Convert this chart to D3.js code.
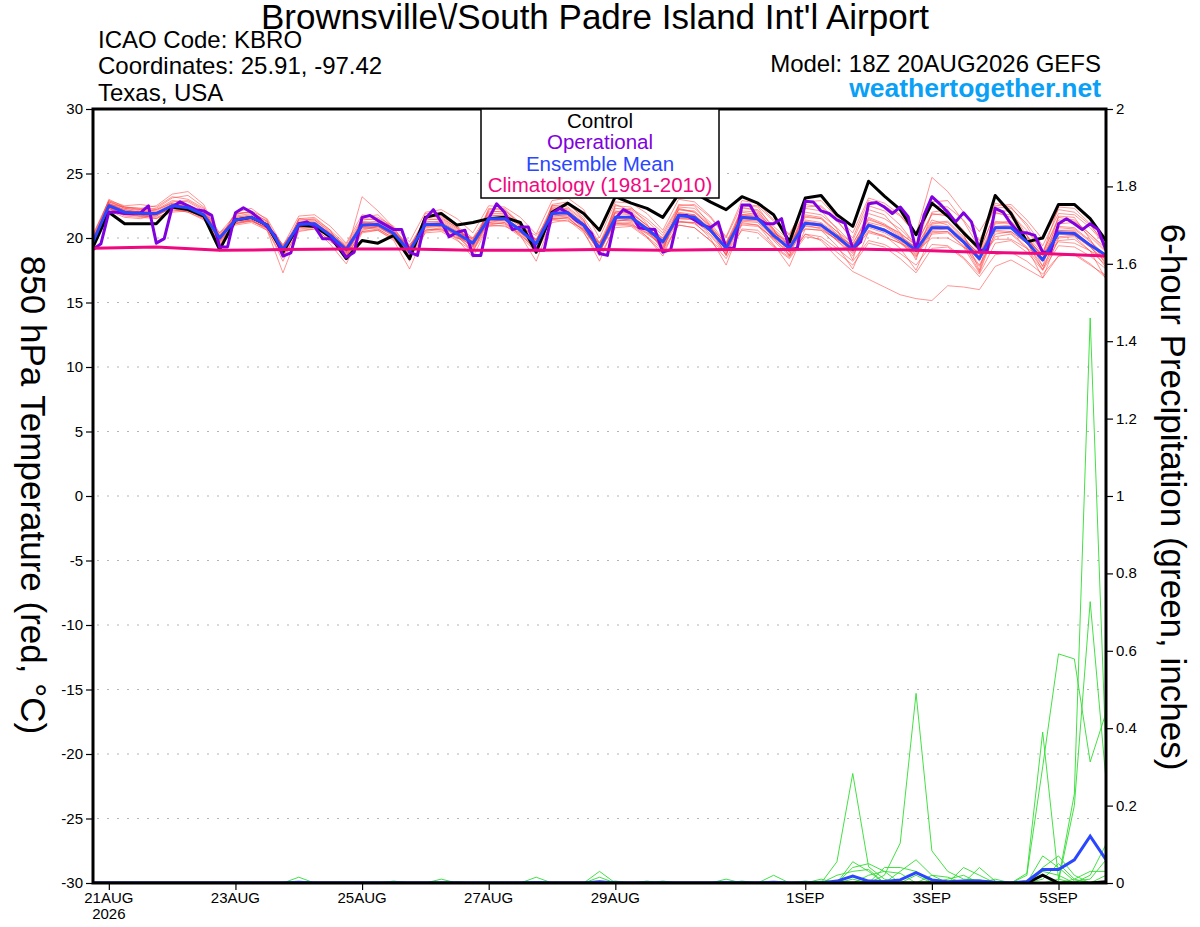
<!DOCTYPE html>
<html>
<head>
<meta charset="utf-8">
<script src="https://cdn.jsdelivr.net/npm/d3@7"></script>
<style>
  html, body { margin: 0; padding: 0; background: #fff; overflow: hidden; }
  svg { display: block; }
  text { font-family: "Liberation Sans", Arial, sans-serif; }
</style>
</head>
<body>
<svg id="chart" width="1200" height="927"></svg>
<script>
// ---- data (6-hourly from 18Z 20AUG2026, 65 steps) ----
const startTime = Date.UTC(2026, 7, 20, 18);

const tempControl = [19.3, 22.0, 21.1, 21.1, 21.1, 22.4, 22.2, 21.7, 19.1, 21.4, 21.6, 21.0, 18.9, 21.0, 20.9, 20.1, 18.4,
  19.8, 19.6, 20.2, 18.4, 21.6, 21.9, 21.0, 21.2, 21.5, 21.6, 21.2, 18.9, 22.0, 22.7, 21.9, 20.6,
  23.2, 22.7, 22.3, 21.6, 23.4, 23.5, 22.8, 22.2, 23.2, 22.7, 21.8, 19.7, 23.1, 23.3, 21.8, 20.9,
  24.4, 23.25, 22.2, 20.25, 22.7, 21.7, 20.4, 19.2, 23.3, 21.9, 19.7, 20.0, 22.6, 22.6, 21.5, 19.8];

const tempMean = [19.7, 22.5, 22.0, 21.9, 21.9, 22.5, 22.35, 21.8, 20.0, 21.4, 21.6, 21.0, 19.1, 21.05, 21.1, 20.2, 19.1,
  21.0, 21.05, 20.35, 19.0, 21.05, 21.05, 20.35, 19.6, 21.5, 21.5, 20.6, 19.55, 21.9, 21.95, 21.0, 19.2,
  21.6, 21.6, 20.7, 19.7, 21.75, 21.6, 20.6, 19.2, 21.6, 21.5, 20.2, 19.2, 21.15, 21.0, 20.1, 19.1,
  21.0, 20.6, 19.95, 19.05, 20.8, 20.8, 19.7, 18.4, 20.8, 20.8, 19.7, 18.3, 20.4, 20.35, 19.45, 18.65];

// operational run is 3-hourly (129 steps)
const tempOper = [19.1, 19.55, 22.0, 22.0, 21.9, 21.9, 21.95, 22.5, 19.6, 19.95, 22.4, 22.8, 22.5, 22.2, 22.1, 21.75,
  19.3, 19.3, 21.95, 22.35, 22.0, 21.5, 20.85, 20.2, 18.6, 18.85, 21.1, 21.25, 20.9, 19.95, 19.95, 19.4,
  18.5, 18.9, 21.6, 21.75, 21.35, 21.0, 20.65, 20.65, 18.9, 18.65, 21.5, 22.2, 21.25, 20.1, 20.45, 20.6,
  18.65, 18.65, 21.5, 22.65, 22.0, 20.65, 20.85, 20.85, 19.05, 19.05, 21.9, 22.3, 21.95, 21.4, 21.0, 20.35,
  18.8, 18.65, 21.5, 22.2, 21.9, 20.8, 20.7, 20.65, 18.9, 19.1, 21.75, 21.75, 21.4, 21.0, 20.8, 21.25,
  19.2, 19.2, 22.55, 22.55, 21.5, 21.1, 21.1, 21.5, 19.1, 19.2, 22.85, 22.8, 22.1, 21.9, 21.4, 21.15,
  19.2, 19.7, 22.65, 22.75, 22.4, 21.9, 22.4, 21.65, 19.05, 21.75, 23.2, 22.65, 22.0, 21.25, 21.95, 21.25,
  19.05, 19.05, 22.3, 22.0, 21.1, 20.4, 20.4, 20.2, 18.9, 18.9, 21.1, 21.5, 21.1, 20.65, 21.1, 20.65,
  19.05];

// 1981-2010 climatology, daily at 18Z
const tempClim = [19.2, 19.3, 19.05, 19.1, 19.15, 19.15, 19.05, 19.05, 19.1, 19.05, 19.1, 19.1, 19.15, 19.05, 18.9, 18.8, 18.6];

const tempMembers = [
  [19.5, 22.8, 22.3, 22.1, 22.0, 22.7, 22.6, 22.0, 19.8, 21.7, 21.9, 21.2, 18.8, 21.3, 21.4, 20.5, 19.3,
   21.4, 21.5, 20.8, 19.2, 21.6, 21.7, 20.9, 20.0, 22.0, 22.1, 21.2, 19.8, 22.5, 22.6, 21.6, 19.6,
   22.3, 22.2, 21.3, 20.2, 22.4, 22.3, 21.2, 19.6, 22.3, 22.2, 20.9, 19.8, 22.0, 21.8, 20.8, 19.5,
   21.9, 21.5, 20.7, 19.5, 21.8, 21.9, 20.6, 19.0, 21.9, 21.8, 20.6, 18.9, 21.4, 21.3, 20.3, 19.2],
  [19.9, 22.3, 21.7, 21.6, 21.5, 22.2, 22.0, 21.5, 19.9, 21.0, 21.2, 20.6, 18.5, 20.6, 20.7, 19.8, 18.6,
   20.5, 20.6, 19.9, 18.4, 20.4, 20.5, 19.8, 19.0, 20.9, 21.0, 20.1, 18.9, 21.2, 21.4, 20.4, 18.6,
   20.8, 20.9, 20.0, 18.9, 21.0, 20.8, 19.8, 18.4, 20.7, 20.6, 19.4, 18.5, 20.3, 20.1, 19.2, 18.2,
   19.8, 19.5, 18.8, 17.9, 19.5, 19.4, 18.5, 17.2, 19.6, 19.8, 18.9, 17.5, 19.4, 19.3, 18.6, 17.6],
  [20.3, 22.9, 22.5, 22.6, 22.4, 23.2, 23.0, 22.3, 20.4, 21.8, 22.1, 21.5, 19.4, 21.7, 21.8, 20.9, 19.6,
   21.8, 21.6, 20.9, 19.7, 22.0, 22.2, 21.5, 20.4, 22.5, 22.4, 21.6, 20.3, 22.9, 23.1, 22.2, 20.0,
   22.8, 22.7, 21.9, 20.6, 23.0, 22.8, 21.7, 20.1, 22.9, 22.7, 21.4, 20.3, 22.6, 22.4, 21.3, 20.0,
   22.9, 22.5, 21.7, 20.3, 24.7, 23.6, 22.0, 20.5, 22.5, 22.6, 21.4, 19.9, 22.2, 22.0, 21.0, 19.5],
  [19.6, 22.4, 22.0, 21.8, 21.7, 22.4, 22.3, 21.6, 19.6, 21.3, 21.5, 20.9, 18.6, 20.9, 21.0, 20.0, 18.7,
   20.9, 21.0, 20.3, 18.7, 20.9, 20.9, 20.2, 19.3, 21.4, 21.3, 20.4, 19.2, 21.7, 21.8, 20.7, 18.9,
   21.3, 21.5, 20.5, 19.4, 21.5, 21.4, 20.3, 18.9, 21.3, 21.2, 19.8, 18.6, 20.3, 19.8, 18.5, 17.4,
   16.8, 16.2, 15.6, 15.3, 15.15, 16.3, 16.2, 16.0, 17.8, 18.3, 17.6, 16.9, 18.6, 18.7, 17.9, 17.1],
  [20.0, 22.6, 22.2, 22.0, 22.2, 22.9, 22.8, 22.1, 20.2, 21.5, 21.6, 21.1, 19.0, 21.2, 21.2, 20.2, 19.0,
   21.2, 21.3, 20.6, 19.3, 21.3, 21.2, 20.5, 19.8, 21.8, 21.7, 20.9, 19.7, 22.1, 22.0, 21.0, 19.3,
   21.9, 21.8, 20.8, 19.8, 22.0, 21.8, 20.8, 19.3, 21.8, 21.9, 20.6, 19.4, 21.6, 21.5, 20.5, 19.3,
   21.5, 21.0, 20.4, 19.4, 21.2, 21.3, 20.1, 18.5, 21.2, 21.3, 20.2, 18.4, 20.9, 20.8, 19.8, 18.5],
  [19.2, 22.1, 21.6, 21.5, 21.8, 22.3, 22.0, 21.4, 19.7, 21.1, 21.4, 20.7, 18.2, 20.8, 20.9, 20.0, 18.8,
   20.7, 20.9, 20.1, 18.6, 20.8, 20.9, 20.1, 19.1, 21.1, 21.2, 20.3, 19.0, 21.6, 21.7, 20.8, 18.9,
   21.4, 21.3, 20.4, 19.3, 21.3, 21.1, 20.2, 18.7, 21.2, 21.0, 19.9, 18.9, 20.9, 20.8, 19.8, 18.8,
   20.6, 20.1, 19.6, 18.6, 20.3, 20.4, 19.4, 17.8, 20.1, 20.3, 19.2, 17.6, 19.8, 19.9, 19.0, 17.9],
  [19.8, 23.0, 22.4, 22.3, 22.5, 23.4, 23.6, 22.6, 19.9, 22.0, 22.3, 21.4, 18.6, 21.5, 21.6, 20.6, 18.5,
   21.6, 21.8, 20.7, 18.2, 21.9, 22.0, 20.9, 19.4, 22.3, 22.2, 21.0, 19.1, 22.6, 22.8, 21.4, 18.7,
   22.5, 22.4, 21.1, 18.9, 22.6, 22.5, 21.0, 18.6, 22.5, 22.4, 20.7, 18.6, 22.3, 22.1, 20.7, 18.3,
   22.2, 21.8, 20.4, 18.3, 22.0, 22.2, 20.3, 17.5, 22.1, 22.1, 20.2, 17.8, 21.7, 21.6, 19.9, 17.9],
  [19.4, 22.2, 21.9, 21.7, 21.6, 22.1, 22.2, 21.6, 19.4, 21.2, 21.3, 20.8, 18.9, 20.7, 20.8, 19.7, 18.9,
   20.8, 20.7, 20.0, 19.0, 20.6, 20.7, 20.0, 19.5, 21.3, 21.4, 20.5, 19.4, 21.5, 21.5, 20.6, 19.2,
   21.2, 21.1, 20.3, 19.5, 21.6, 21.5, 20.5, 19.2, 21.4, 21.3, 20.0, 19.1, 21.0, 20.7, 19.9, 19.0,
   20.9, 20.6, 19.8, 18.8, 20.6, 20.7, 19.6, 18.4, 20.6, 20.5, 19.6, 18.2, 20.3, 20.2, 19.3, 18.2],
  [19.7, 22.7, 22.1, 22.0, 21.9, 22.6, 22.5, 21.9, 20.1, 21.6, 21.7, 21.0, 19.2, 21.1, 21.2, 20.3, 19.2,
   21.1, 21.2, 20.5, 19.2, 21.2, 21.3, 20.6, 19.9, 21.7, 21.8, 21.0, 19.8, 22.2, 22.3, 21.3, 19.5,
   22.0, 22.3, 21.5, 20.4, 22.5, 22.6, 21.6, 20.0, 22.6, 22.5, 21.3, 20.2, 22.8, 22.9, 21.6, 20.4,
   23.1, 22.7, 21.8, 20.2, 22.5, 22.4, 21.4, 19.8, 22.4, 22.3, 21.1, 19.4, 21.9, 21.8, 20.8, 19.4],
  [19.5, 22.5, 22.1, 21.9, 21.8, 22.5, 22.4, 21.8, 20.3, 21.5, 21.5, 20.9, 19.3, 21.0, 21.1, 20.4, 19.4,
   20.9, 20.8, 20.2, 19.5, 20.7, 20.6, 20.0, 19.8, 21.0, 20.9, 20.4, 19.9, 21.4, 21.3, 20.7, 19.6,
   21.0, 21.0, 20.4, 19.9, 21.2, 21.2, 20.5, 19.6, 21.0, 20.9, 20.0, 19.6, 20.7, 20.6, 19.9, 19.2,
   20.4, 20.1, 19.6, 19.0, 20.0, 20.0, 19.3, 18.6, 19.9, 19.9, 19.2, 18.5, 19.7, 19.6, 19.0, 18.4],
  [19.6, 22.3, 21.8, 21.7, 21.7, 22.4, 22.2, 21.5, 19.5, 21.2, 21.4, 20.6, 17.3, 20.5, 20.7, 19.5, 18.0,
   20.4, 20.6, 19.8, 17.6, 20.5, 20.7, 19.9, 18.5, 21.0, 21.2, 20.2, 18.2, 21.4, 21.6, 20.5, 18.2,
   21.1, 21.2, 20.1, 18.6, 21.3, 21.2, 20.0, 17.9, 21.1, 21.0, 19.5, 17.8, 20.7, 20.6, 19.4, 17.6,
   20.5, 20.2, 19.2, 17.5, 20.4, 20.5, 19.3, 17.3, 20.5, 20.4, 19.3, 16.9, 20.0, 20.1, 19.0, 16.8],
  [20.1, 22.9, 22.3, 22.2, 22.1, 22.8, 22.9, 22.2, 20.0, 21.9, 22.0, 21.3, 19.3, 21.4, 21.5, 20.6, 19.5,
   21.5, 21.4, 20.6, 19.4, 21.4, 21.5, 20.8, 19.6, 22.1, 22.0, 21.0, 19.5, 22.4, 22.2, 21.1, 19.4,
   22.1, 21.9, 21.0, 19.6, 22.2, 22.0, 20.9, 19.5, 22.0, 21.8, 20.5, 19.5, 21.7, 21.5, 20.3, 19.4,
   21.2, 20.9, 20.1, 19.3, 21.4, 21.0, 19.9, 18.8, 21.3, 21.1, 19.9, 18.7, 21.1, 21.2, 20.1, 18.9],
  [19.3, 22.4, 21.8, 21.7, 21.8, 22.3, 22.1, 21.6, 20.1, 21.3, 21.4, 20.8, 18.8, 20.9, 21.0, 19.9, 18.6,
   20.6, 20.9, 20.2, 18.8, 21.0, 21.1, 20.3, 19.2, 21.2, 21.1, 20.2, 19.2, 21.5, 21.6, 20.6, 19.0,
   21.1, 21.0, 20.1, 19.1, 21.0, 20.8, 19.8, 18.8, 20.6, 20.4, 19.3, 18.4, 20.1, 19.9, 18.9, 17.9,
   19.6, 19.3, 18.4, 17.3, 19.2, 19.3, 18.4, 17.0, 18.7, 18.9, 18.2, 17.2, 18.6, 18.8, 18.0, 16.9],
  [19.9, 22.6, 22.4, 22.3, 22.2, 22.7, 22.5, 22.0, 20.1, 21.6, 21.8, 21.1, 19.1, 21.2, 21.3, 20.3, 19.0,
   21.3, 21.1, 20.5, 19.0, 21.5, 21.4, 20.7, 19.7, 21.9, 21.9, 21.0, 19.9, 22.3, 22.1, 21.2, 19.3,
   22.0, 21.9, 21.0, 20.0, 22.2, 22.1, 21.0, 19.5, 22.1, 22.0, 20.7, 19.6, 21.8, 21.6, 20.5, 19.6,
   21.6, 21.1, 20.3, 19.5, 21.9, 21.7, 20.4, 18.9, 22.0, 21.6, 20.2, 18.8, 21.6, 21.4, 20.3, 19.0],
  [19.4, 22.5, 22.0, 21.8, 21.9, 22.6, 22.4, 21.7, 19.9, 21.4, 21.6, 21.0, 19.0, 21.1, 21.0, 20.1, 19.1,
   21.0, 21.0, 20.3, 19.1, 21.0, 21.0, 20.3, 19.7, 21.5, 21.6, 20.7, 19.6, 21.9, 22.0, 21.0, 19.2,
   21.7, 21.6, 20.7, 19.6, 21.8, 21.6, 20.6, 19.1, 21.7, 21.6, 20.3, 19.1, 21.3, 21.1, 20.2, 19.1,
   21.1, 20.7, 20.0, 19.1, 20.9, 20.8, 19.7, 18.2, 20.9, 20.9, 19.8, 18.2, 20.6, 20.5, 19.5, 18.3],
  [19.8, 22.6, 22.1, 22.0, 22.0, 22.4, 22.3, 21.9, 20.2, 21.4, 21.6, 21.1, 19.4, 21.0, 21.1, 20.3, 19.3,
   21.2, 21.1, 20.4, 19.3, 21.1, 21.2, 20.5, 19.9, 21.6, 21.5, 20.7, 19.8, 22.0, 21.9, 20.9, 19.6,
   21.6, 21.7, 20.8, 19.9, 21.9, 21.7, 20.7, 19.4, 21.8, 21.7, 20.4, 19.4, 21.4, 21.2, 20.3, 19.3,
   21.4, 21.0, 20.2, 19.2, 21.1, 21.2, 20.0, 18.7, 21.1, 21.2, 20.0, 18.6, 20.8, 20.7, 19.7, 18.7],
  [20.2, 22.8, 22.4, 22.2, 22.3, 23.1, 23.3, 22.4, 19.7, 21.9, 22.0, 21.3, 18.7, 21.5, 21.4, 20.4, 18.8,
   23.2, 22.1, 20.8, 18.9, 21.7, 21.6, 20.8, 19.3, 22.2, 22.3, 21.1, 19.0, 22.5, 22.4, 21.4, 19.0,
   22.6, 22.1, 20.9, 19.2, 22.3, 22.0, 20.9, 19.0, 22.4, 22.1, 20.6, 18.9, 22.4, 22.5, 21.4, 19.8,
   22.5, 22.1, 21.0, 19.4, 22.8, 22.9, 21.3, 19.2, 22.7, 22.4, 20.9, 18.8, 22.4, 22.3, 21.1, 19.3],
  [19.5, 22.3, 21.9, 21.8, 21.5, 22.0, 22.1, 21.6, 19.8, 21.1, 21.3, 20.8, 18.7, 20.8, 20.9, 19.9, 18.5,
   20.5, 20.7, 20.0, 18.5, 20.6, 20.8, 20.2, 19.4, 21.2, 21.4, 20.6, 19.5, 21.8, 22.0, 21.1, 19.3,
   21.5, 21.4, 20.6, 19.6, 21.7, 21.7, 20.7, 19.4, 21.5, 21.4, 20.2, 19.3, 21.2, 21.0, 20.0, 18.9,
   20.8, 20.4, 19.7, 18.7, 20.5, 20.5, 19.6, 17.9, 20.3, 20.5, 19.6, 17.8, 20.1, 20.2, 19.3, 18.1],
  [19.6, 22.7, 22.2, 22.0, 21.9, 22.6, 22.4, 21.7, 20.0, 21.5, 21.7, 21.0, 19.1, 21.2, 21.2, 20.2, 18.9,
   21.0, 21.1, 20.4, 18.8, 21.1, 21.0, 20.2, 18.9, 21.6, 21.6, 20.5, 18.9, 21.9, 22.0, 20.9, 18.8,
   21.6, 21.7, 20.6, 19.1, 21.9, 21.8, 20.6, 18.7, 21.8, 21.6, 20.0, 18.7, 21.1, 20.9, 19.8, 18.6,
   21.0, 20.6, 19.7, 18.5, 21.0, 20.9, 19.6, 17.4, 20.9, 21.0, 19.7, 17.5, 20.6, 20.6, 19.4, 17.7],
  [20.0, 22.4, 22.0, 21.9, 22.0, 22.5, 22.3, 21.7, 20.4, 21.4, 21.5, 20.9, 19.5, 21.0, 21.1, 20.3, 19.3,
   20.8, 20.9, 20.3, 19.3, 20.9, 21.0, 20.4, 20.0, 21.4, 21.5, 20.8, 20.2, 21.7, 21.8, 20.9, 19.7,
   21.3, 21.4, 20.7, 20.0, 21.5, 21.5, 20.7, 19.7, 21.4, 21.4, 20.4, 19.7, 21.2, 21.0, 20.2, 19.4,
   21.0, 20.7, 20.0, 19.3, 20.7, 20.8, 19.8, 18.8, 20.7, 20.8, 19.8, 18.7, 20.4, 20.4, 19.5, 18.6]
];

// 6-hour precipitation (inches)
const precipMean = [0, 0, 0, 0, 0, 0, 0, 0, 0, 0, 0, 0, 0, 0.002, 0, 0, 0,
  0, 0, 0, 0, 0, 0, 0, 0, 0, 0, 0, 0.001, 0, 0, 0, 0.003,
  0, 0, 0, 0, 0, 0, 0, 0.001, 0, 0, 0.002, 0, 0, 0, 0.005, 0.018,
  0.005, 0.004, 0.008, 0.027, 0.008, 0.003, 0.005, 0.005, 0.002, 0, 0.004, 0.035, 0.035, 0.06, 0.121, 0.06];

const precipControl = [0, 0, 0, 0, 0, 0, 0, 0, 0, 0, 0, 0, 0, 0, 0, 0, 0,
  0, 0, 0, 0, 0, 0, 0, 0, 0, 0, 0, 0, 0, 0, 0, 0,
  0, 0, 0, 0, 0, 0, 0, 0, 0, 0, 0, 0, 0, 0, 0, 0,
  0, 0, 0, 0, 0, 0, 0, 0, 0, 0, 0, 0.02, 0, 0, 0, 0.003];

const precipMembers = [
  [0, 0, 0, 0, 0, 0, 0, 0, 0, 0, 0, 0, 0, 0.015, 0, 0, 0,
   0, 0, 0, 0, 0, 0, 0, 0, 0, 0, 0, 0, 0, 0, 0, 0.03,
   0, 0, 0, 0, 0, 0, 0, 0, 0, 0, 0, 0, 0, 0, 0.055, 0.283,
   0.042, 0.01, 0, 0, 0, 0, 0, 0, 0, 0, 0, 0.04, 0.07, 0.02, 0, 0],
  [0, 0, 0, 0, 0, 0, 0, 0, 0, 0, 0, 0, 0, 0, 0, 0, 0,
   0, 0, 0, 0, 0, 0.01, 0, 0, 0, 0, 0, 0, 0, 0, 0, 0,
   0, 0, 0, 0, 0, 0, 0, 0, 0, 0, 0.02, 0, 0, 0, 0, 0,
   0, 0.02, 0.103, 0.49, 0.083, 0.03, 0.01, 0.008, 0, 0, 0, 0, 0, 0, 0, 0],
  [0, 0, 0, 0, 0, 0, 0, 0, 0, 0, 0, 0, 0, 0, 0, 0, 0,
   0, 0, 0, 0, 0, 0, 0, 0, 0, 0, 0, 0.015, 0, 0, 0, 0,
   0, 0, 0, 0, 0, 0, 0, 0, 0, 0, 0, 0, 0, 0, 0, 0.04,
   0.05, 0.03, 0, 0, 0, 0, 0, 0, 0, 0, 0.025, 0.39, 0.01, 0, 0, 0],
  [0, 0, 0, 0, 0, 0, 0, 0, 0, 0, 0, 0, 0, 0, 0, 0, 0,
   0, 0, 0, 0, 0, 0, 0, 0, 0, 0, 0, 0, 0, 0, 0, 0,
   0, 0, 0, 0, 0, 0, 0, 0.01, 0, 0, 0, 0, 0, 0, 0, 0.055,
   0.03, 0, 0.03, 0.06, 0.02, 0, 0, 0, 0, 0, 0.02, 0.3, 0.592, 0.579, 0.313, 0.44],
  [0, 0, 0, 0, 0, 0, 0, 0, 0, 0, 0, 0, 0, 0, 0, 0, 0,
   0, 0, 0, 0, 0, 0, 0, 0, 0, 0, 0, 0, 0, 0, 0, 0,
   0, 0, 0.005, 0, 0, 0, 0, 0, 0, 0, 0, 0, 0, 0, 0.02, 0.03,
   0.035, 0, 0, 0, 0, 0, 0.04, 0.02, 0, 0, 0, 0, 0.005, 0.2, 0.727, 0.266],
  [0, 0, 0, 0, 0, 0, 0, 0, 0, 0, 0, 0, 0, 0, 0, 0, 0,
   0, 0, 0.005, 0, 0, 0, 0, 0, 0, 0, 0, 0, 0, 0, 0, 0.015,
   0, 0, 0, 0, 0, 0, 0, 0, 0, 0, 0, 0, 0, 0, 0, 0.02,
   0, 0.04, 0.04, 0.03, 0, 0, 0, 0, 0.01, 0, 0, 0, 0.01, 0.23, 1.46, 0.33],
  [0, 0, 0, 0, 0, 0, 0, 0, 0, 0, 0, 0, 0, 0, 0, 0, 0,
   0, 0, 0, 0, 0, 0, 0, 0, 0, 0, 0, 0, 0, 0, 0, 0,
   0, 0, 0, 0, 0, 0, 0, 0, 0, 0, 0, 0, 0.005, 0, 0, 0,
   0, 0, 0, 0, 0.02, 0.015, 0, 0.04, 0.005, 0, 0, 0.07, 0.04, 0.005, 0.01, 0.06],
  [0, 0, 0, 0, 0, 0, 0, 0, 0, 0, 0, 0, 0, 0, 0, 0, 0,
   0, 0, 0, 0, 0, 0, 0, 0, 0, 0, 0, 0, 0, 0, 0, 0,
   0, 0, 0, 0, 0, 0, 0, 0, 0.005, 0, 0, 0, 0, 0.01, 0, 0,
   0.02, 0.03, 0.025, 0, 0, 0, 0, 0, 0, 0, 0, 0.03, 0.02, 0, 0.02, 0.1],
  [0, 0, 0, 0, 0, 0, 0, 0, 0, 0, 0, 0, 0, 0, 0, 0, 0,
   0, 0, 0, 0, 0, 0, 0, 0, 0, 0, 0, 0, 0, 0, 0, 0,
   0.005, 0, 0, 0, 0, 0, 0, 0, 0, 0, 0, 0, 0, 0.005, 0, 0,
   0, 0, 0, 0.02, 0, 0.01, 0.02, 0, 0, 0, 0, 0, 0, 0.01, 0.03, 0.03],
  [0, 0, 0, 0, 0, 0, 0, 0, 0, 0, 0, 0, 0, 0, 0, 0, 0,
   0, 0, 0, 0, 0, 0, 0.003, 0, 0, 0, 0, 0, 0, 0, 0, 0,
   0, 0, 0, 0.005, 0, 0, 0, 0, 0, 0, 0, 0, 0, 0, 0, 0.01,
   0, 0, 0, 0, 0, 0, 0, 0, 0, 0, 0, 0.01, 0.05, 0.01, 0, 0.02]
];

const dateTicks = [Date.UTC(2026, 7, 21), Date.UTC(2026, 7, 23), Date.UTC(2026, 7, 25), Date.UTC(2026, 7, 27),
  Date.UTC(2026, 7, 29), Date.UTC(2026, 8, 1), Date.UTC(2026, 8, 3), Date.UTC(2026, 8, 5)];
const dateLabels = ['21AUG', '23AUG', '25AUG', '27AUG', '29AUG', '1SEP', '3SEP', '5SEP'];
const tempTicks = d3.range(-30, 31, 5);
const precipTicks = [0, 0.2, 0.4, 0.6, 0.8, 1, 1.2, 1.4, 1.6, 1.8, 2];

const legendItems = [
  { label: 'Control', color: '#000000' },
  { label: 'Operational', color: '#8000e0' },
  { label: 'Ensemble Mean', color: '#2a46ff' },
  { label: 'Climatology (1981-2010)', color: '#f0087f' }
];

// ---- layout ----
const svg = d3.select('#chart');
const margin = { top: 109, right: 94, bottom: 44, left: 93 };
const width = +svg.attr('width');
const height = +svg.attr('height');
const innerWidth = width - margin.left - margin.right;
const innerHeight = height - margin.top - margin.bottom;
const plotRight = margin.left + innerWidth;
const plotBottom = margin.top + innerHeight;

const HOUR = 3600 * 1000;
const x = d3.scaleUtc()
  .domain([new Date(startTime), new Date(startTime + 384 * HOUR)])
  .range([margin.left, plotRight]);
const yT = d3.scaleLinear().domain([-30, 30]).range([plotBottom, margin.top]);
const yP = d3.scaleLinear().domain([0, 2]).range([plotBottom, margin.top]);

const t6 = i => new Date(startTime + i * 6 * HOUR);
const t3 = i => new Date(startTime + i * 3 * HOUR);
const t24 = i => new Date(startTime + i * 24 * HOUR);

svg.append('rect').attr('width', width).attr('height', height).attr('fill', '#fff');

svg.append('defs').append('clipPath').attr('id', 'plotclip')
  .append('rect')
  .attr('x', margin.left).attr('y', margin.top)
  .attr('width', innerWidth).attr('height', innerHeight);

// grid lines
svg.append('g')
  .selectAll('line')
  .data(tempTicks.filter(d => d > -30 && d < 30))
  .enter().append('line')
  .attr('x1', margin.left + 4).attr('x2', plotRight)
  .attr('y1', d => yT(d)).attr('y2', d => yT(d))
  .attr('stroke', '#b4b4b4')
  .attr('stroke-width', 1.2)
  .attr('stroke-dasharray', '2,8');

const plot = svg.append('g').attr('clip-path', 'url(#plotclip)');

const line6T = d3.line().x((d, i) => x(t6(i))).y(d => yT(d));
const line3T = d3.line().x((d, i) => x(t3(i))).y(d => yT(d));
const lineDayT = d3.line().x((d, i) => x(t24(i))).y(d => yT(d));
const line6P = d3.line().x((d, i) => x(t6(i))).y(d => yP(d));

// ensemble members (temperature)
plot.append('g')
  .selectAll('path')
  .data(tempMembers)
  .enter().append('path')
  .attr('d', line6T)
  .attr('fill', 'none')
  .attr('stroke', '#ff4040')
  .attr('stroke-opacity', 0.7)
  .attr('stroke-width', 0.8);

// ensemble members (precip)
plot.append('g')
  .selectAll('path')
  .data(precipMembers)
  .enter().append('path')
  .attr('d', line6P)
  .attr('fill', 'none')
  .attr('stroke', '#2fdc2f')
  .attr('stroke-width', 0.9);

plot.append('path').datum(precipControl)
  .attr('d', line6P).attr('fill', 'none')
  .attr('stroke', '#000').attr('stroke-width', 3);

plot.append('path').datum(precipMean)
  .attr('d', line6P).attr('fill', 'none')
  .attr('stroke', '#2a46ff').attr('stroke-width', 3);

plot.append('path').datum(tempControl)
  .attr('d', line6T).attr('fill', 'none')
  .attr('stroke', '#000').attr('stroke-width', 3)
  .attr('stroke-linejoin', 'round');

plot.append('path').datum(tempOper)
  .attr('d', line3T).attr('fill', 'none')
  .attr('stroke', '#8000e0').attr('stroke-width', 3)
  .attr('stroke-linejoin', 'round');

plot.append('path').datum(tempMean)
  .attr('d', line6T).attr('fill', 'none')
  .attr('stroke', '#2a46ff').attr('stroke-width', 3)
  .attr('stroke-linejoin', 'round');

plot.append('path').datum(tempClim)
  .attr('d', lineDayT).attr('fill', 'none')
  .attr('stroke', '#f0087f').attr('stroke-width', 3);

// frame
svg.append('rect')
  .attr('x', margin.left).attr('y', margin.top)
  .attr('width', innerWidth).attr('height', innerHeight)
  .attr('fill', 'none').attr('stroke', '#000').attr('stroke-width', 3);

// axes: tick marks from d3 axes, labels placed from the same scales
const leftAxis = svg.append('g')
  .attr('transform', `translate(${margin.left - 1},0)`)
  .call(d3.axisLeft(yT).tickValues(tempTicks).tickSize(6).tickFormat(''));
const rightAxis = svg.append('g')
  .attr('transform', `translate(${plotRight + 1},0)`)
  .call(d3.axisRight(yP).tickValues(precipTicks).tickSize(6).tickFormat(''));
const bottomAxis = svg.append('g')
  .attr('transform', `translate(0,${plotBottom + 1})`)
  .call(d3.axisBottom(x).tickValues(dateTicks.map(d => new Date(d))).tickSize(6).tickFormat(''));

[leftAxis, rightAxis, bottomAxis].forEach(a => {
  a.select('.domain').remove();
  a.selectAll('.tick line').attr('stroke', '#000').attr('stroke-width', 1.2);
  a.selectAll('.tick text').remove();
});

const tickFont = '15px';
svg.append('g').selectAll('text')
  .data(tempTicks)
  .enter().append('text')
  .attr('x', margin.left - 10)
  .attr('y', d => yT(d) + 5)
  .attr('text-anchor', 'end')
  .style('font-size', tickFont)
  .text(d => d);

svg.append('g').selectAll('text')
  .data(precipTicks)
  .enter().append('text')
  .attr('x', plotRight + 10)
  .attr('y', d => yP(d) + 5)
  .style('font-size', tickFont)
  .text(d => d3.format('~g')(d));

svg.append('g').selectAll('text')
  .data(dateTicks)
  .enter().append('text')
  .attr('x', d => x(new Date(d)))
  .attr('y', plotBottom + 20)
  .attr('text-anchor', 'middle')
  .style('font-size', tickFont)
  .text((d, i) => dateLabels[i]);

svg.append('text')
  .attr('x', x(new Date(dateTicks[0]))).attr('y', 919)
  .attr('text-anchor', 'middle')
  .style('font-size', tickFont)
  .text('2026');

// legend
const legend = svg.append('g');
legend.append('rect')
  .attr('x', 481).attr('y', margin.top)
  .attr('width', 238).attr('height', 89)
  .attr('fill', '#fff').attr('stroke', '#000').attr('stroke-width', 1.5);
legend.selectAll('text')
  .data(legendItems)
  .enter().append('text')
  .attr('x', 600)
  .attr('y', (d, i) => 128 + i * 21.4)
  .attr('text-anchor', 'middle')
  .attr('fill', d => d.color)
  .style('font-size', '20.5px')
  .text(d => d.label);

// titles
svg.append('text')
  .attr('x', 595).attr('y', 29)
  .attr('text-anchor', 'middle')
  .style('font-size', '35px')
  .text('Brownsville\\/South Padre Island Int\'l Airport');

const infoLeft = ['ICAO Code: KBRO', 'Coordinates: 25.91, -97.42', 'Texas, USA'];
svg.append('g').selectAll('text')
  .data(infoLeft)
  .enter().append('text')
  .attr('x', 98)
  .attr('y', (d, i) => 48 + i * 26.3)
  .style('font-size', '24px')
  .text(d => d);

svg.append('text')
  .attr('x', 1101).attr('y', 72)
  .attr('text-anchor', 'end')
  .style('font-size', '24px')
  .text('Model: 18Z 20AUG2026 GEFS');

svg.append('text')
  .attr('x', 1101).attr('y', 97)
  .attr('text-anchor', 'end')
  .attr('fill', '#0aa0f5')
  .style('font-size', '26.5px')
  .style('font-weight', 'bold')
  .text('weathertogether.net');

svg.append('text')
  .attr('transform', 'translate(21,495) rotate(90)')
  .attr('text-anchor', 'middle')
  .style('font-size', '35px')
  .text('850 hPa Temperature (red, \u00B0C)');

svg.append('text')
  .attr('transform', 'translate(1161,497) rotate(90)')
  .attr('text-anchor', 'middle')
  .style('font-size', '35px')
  .text('6-hour Precipitation (green, inches)');
</script>
</body>
</html>
